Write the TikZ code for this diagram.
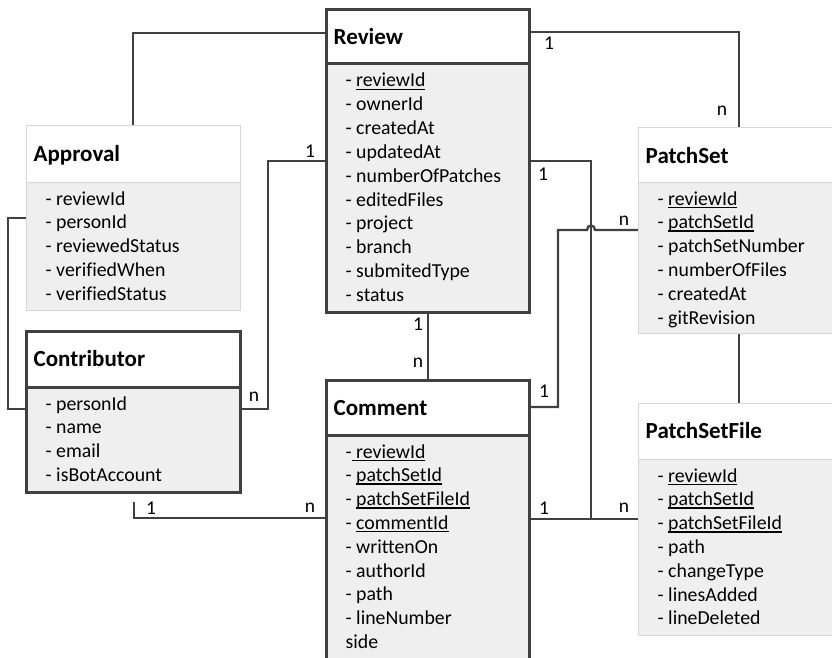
\documentclass[tikz,border=0pt]{standalone}
\usepackage{fontspec}
\setmainfont{Carlito}[Ligatures=NoCommon]
\usetikzlibrary{calc}
\definecolor{lc}{HTML}{404040}
\definecolor{bodyc}{HTML}{EFEFEF}
\definecolor{bc}{HTML}{D6D6D6}
\newcommand{\uln}[1]{\setbox0\hbox{#1}\rlap{\vrule width\wd0 height -1.6pt depth 3.0pt}\box0}
\tikzset{
  conn/.style={draw=lc, line width=2.3pt},
  thickbox/.style={draw=lc, line width=3pt},
  thinbox/.style={draw=bc, line width=1pt},
  ttl/.style={font=\fontsize{23}{28}\selectfont\bfseries, anchor=base west, inner sep=0pt},
  itm/.style={font=\fontsize{19.8}{24}\selectfont, anchor=base west, inner sep=0pt},
  card/.style={font=\fontsize{19.5}{24}\selectfont, inner sep=0pt}
}
% #1 name #2 border style #3 x #4 y #5 w #6 h #7 header h #8 title #9 items
\newcommand{\umlbox}[9]{%
  \fill[white] (#3,#4) rectangle (#3+#5,#4+#7);
  \fill[bodyc] (#3,#4+#7) rectangle (#3+#5,#4+#6);
  \node[#2, anchor=north west, minimum width=#5pt, minimum height=#6pt, inner sep=0pt, outer sep=0pt] (#1) at (#3,#4) {};
  \draw[#2] (#3,#4+#7) -- (#3+#5,#4+#7);
  \node[ttl] (#1-t) at (#3+7.5,#4+35) {#8};
  \foreach \ent [count=\k from 0] in {#9}
    \node[itm] (#1-\k) at (#3+19.5,#4+#7+23+\k*23.8) {\ent};
}
\begin{document}
\begin{tikzpicture}[x=1pt,y=-1pt]
\useasboundingbox (0,0) rectangle (832,658);
\clip (0,0) rectangle (832,658);
\fill[white] (0,0) rectangle (832,658);

% connectors
\coordinate (jn) at (591,519);
\draw[conn] (133,126) |- (326,33);
\draw[conn] (26,218) -- (8,218) |- (26,409);
\draw[conn] (326,161) -- (268,161) |- (240,409);
\draw[conn] (529,32) -| (739,128);
\draw[conn] (529,161) -| (jn);
\draw[conn] (529,519) -- (638,519);
\draw[conn] (529,407) -- (558,407) |- (587,230) .. controls +(0,-6) and +(0,-6) .. (595,230) -- (638,230);
\draw[conn] (739,333) -- (739,403);
\draw[conn] (428,312) -- (428,380);
\draw[conn] (134,502) |- (326,518);

% boxes
\umlbox{approval}{thinbox}{26}{126}{214}{184}{56}{Approval}{- reviewId,- personId,- reviewedStatus,- verifiedWhen,- verifiedStatus}
\umlbox{review}{thickbox}{326}{10}{203}{302}{54}{Review}{- \uln{reviewId},- ownerId,- createdAt,- updatedAt,- numberOfPatches,- editedFiles,- project,- branch,- submitedType,- status}
\umlbox{patchset}{thinbox}{638}{128}{230}{205}{54}{PatchSet}{- \uln{reviewId},- \uln{patchSetId},- patchSetNumber,- numberOfFiles,- createdAt,- gitRevision}
\umlbox{contrib}{thickbox}{26}{331}{214}{161}{56}{Contributor}{- personId,- name,- email,- isBotAccount}
\umlbox{comment}{thickbox}{326}{380}{203}{300}{55}{Comment}{-\uln{ reviewId},- \uln{patchSetId},- \uln{patchSetFileId},- \uln{commentId},- writtenOn,- authorId,- path,- lineNumber,side}
\umlbox{psfile}{thinbox}{638}{403}{230}{232}{56}{PatchSetFile}{- \uln{reviewId},- \uln{patchSetId},- \uln{patchSetFileId},- path,- changeType,- linesAdded,- lineDeleted}

% cardinalities
\node[card] (c1) at (310,151) {1};
\node[card] (c2) at (254,397) {n};
\node[card] (c3) at (549,43) {1};
\node[card] (c4) at (722,111) {n};
\node[card] (c5) at (543,174) {1};
\node[card] (c6) at (624,221) {n};
\node[card] (c7) at (544,391) {1};
\node[card] (c8) at (544,508) {1};
\node[card] (c9) at (624,508) {n};
\node[card] (c10) at (418,324) {1};
\node[card] (c11) at (418,363) {n};
\node[card] (c12) at (151,508) {1};
\node[card] (c13) at (310,508) {n};
\end{tikzpicture}
\end{document}
